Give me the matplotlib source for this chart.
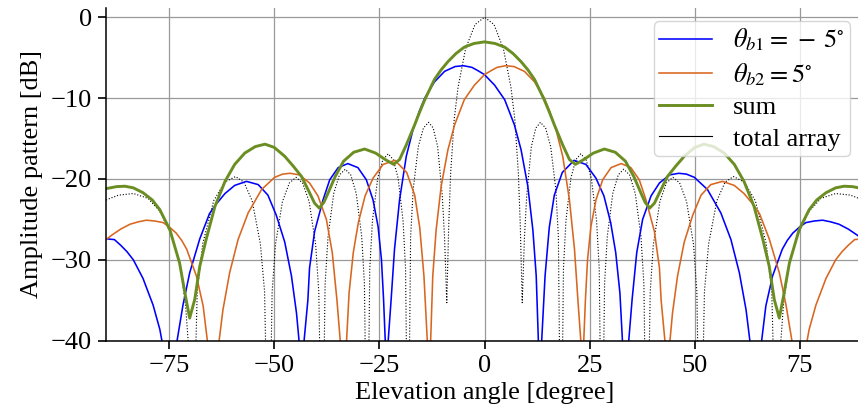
import matplotlib
matplotlib.use("Agg")
import matplotlib.pyplot as plt
from matplotlib.lines import Line2D

# values (angle in degree, level in dB)
# points at -60 dB are nulls that fall below the visible range
blue_deg = [-90, -88.0, -86.5, -85.0, -83.5, -81.2, -78.8, -77.2, -76.6, -74.8,
            -73.1, -71.7, -70.1, -67.7, -65.4, -64.1, -61.7, -59.4, -56.6, -53.8,
            -51.5, -49.5, -47.5, -45.9, -44.7, -44.1, -43.5, -42.9, -42.0, -41.6,
            -40.4, -38.4, -36.8, -34.8, -32.5, -30.1, -28.1, -26.5, -25.3, -24.5,
            -24.0, -23.6, -23.25, -22.9, -22.2, -21.4, -20.2, -18.6, -17.0, -15.4,
            -14.2, -11.9, -9.5, -7.0, -5.0, -3.0, -1.6, 0.0, 2.4, 4.8,
            7.1, 8.7, 10.3, 11.5, 12.3, 12.8, 13.2, 13.6, 14.4, 15.4,
            16.6, 18.5, 21.3, 24.1, 26.5, 28.4, 30.0, 31.2, 32.2, 32.8,
            33.5, 34.3, 35.1, 36.2, 37.6, 39.6, 41.6, 44.0, 46.2, 48.0,
            49.9, 53.0, 56.2, 58.6, 60.6, 62.2, 63.1, 64.5, 65.9, 66.9,
            68.5, 70.8, 72.0, 73.3, 74.8, 76.4, 78.4, 80.4, 82.3, 84.3,
            86.5, 88.5, 90]
blue_db = [-27.4, -27.5, -28.2, -29.0, -30.0, -32.3, -35.6, -38.6, -40.3, -60,
           -40.0, -35.6, -31.6, -27.4, -24.3, -23.3, -21.8, -20.8, -20.3, -20.7,
           -22.0, -24.5, -27.8, -32.0, -36.6, -40.0, -60, -40.0, -35.0, -31.0,
           -26.5, -22.6, -20.1, -18.6, -18.1, -18.6, -20.1, -22.6, -25.9, -30.0,
           -34.9, -40.0, -60, -40.0, -34.9, -28.7, -22.6, -17.2, -13.9, -11.5,
           -10.0, -8.0, -6.7, -6.1, -6.0, -6.2, -6.6, -7.1, -8.4, -10.2,
           -13.3, -16.4, -20.9, -26.3, -32.0, -39.9, -60, -40.0, -32.0, -26.0,
           -22.0, -19.2, -17.7, -18.2, -19.9, -22.1, -25.4, -29.1, -34.1, -40.0,
           -60, -40.0, -34.9, -29.1, -25.0, -22.1, -20.5, -19.5, -19.3, -19.4,
           -19.8, -21.3, -24.2, -27.5, -31.6, -36.2, -40.0, -60, -40.0, -35.7,
           -32.0, -28.7, -27.6, -26.7, -26.0, -25.4, -25.2, -25.1, -25.3, -25.6,
           -26.2, -26.9, -27.5]

orange_deg = [-90, -88.5, -86.5, -84.3, -82.3, -80.4, -78.4, -76.4, -74.8, -73.3,
              -72.0, -70.8, -68.5, -66.9, -65.9,
              -64.5, -63.1, -62.2, -60.6, -58.6, -56.2, -53.0, -49.9, -48.0, -46.2,
              -44.0, -41.6, -39.6, -37.6, -36.2, -35.1, -34.3, -33.5, -32.8, -32.2,
              -31.2, -30.0, -28.4, -26.5, -24.1, -21.3, -18.5, -16.6, -15.4, -14.4,
              -13.6, -13.2, -12.8, -12.3, -11.5, -10.3, -8.7, -7.1, -4.8, -2.4,
              0.0, 1.6, 3.0, 5.0, 7.0, 9.5, 11.9, 14.2, 15.4, 17.0,
              18.6, 20.2, 21.4, 22.2, 22.9, 23.25, 23.6, 24.0, 24.5, 25.3,
              26.5, 28.1, 30.1, 32.5, 34.8, 36.8, 38.4, 40.4, 41.6, 42.0,
              42.9, 43.5, 44.1, 44.7, 45.9, 47.5, 49.5, 51.5, 53.8, 56.6,
              59.4, 61.7, 64.1, 65.4, 67.7, 70.1, 71.7, 73.1, 74.8, 76.6,
              77.2, 78.8, 81.2, 83.5, 85.0, 86.5, 88.0, 90]
orange_db = [-27.5, -26.9, -26.2, -25.6, -25.3, -25.1, -25.2, -25.4, -26.0, -26.7,
             -27.6, -28.7, -32.0, -35.7, -40.0,
             -60, -40.0, -36.2, -31.6, -27.5, -24.2, -21.3, -19.8, -19.4, -19.3,
             -19.5, -20.5, -22.1, -25.0, -29.1, -34.9, -40.0, -60, -40.0, -34.1,
             -29.1, -25.4, -22.1, -19.9, -18.2, -17.7, -19.2, -22.0, -26.0, -32.0,
             -40.0, -60, -39.9, -32.0, -26.3, -20.9, -16.4, -13.3, -10.2, -8.4,
             -7.1, -6.6, -6.2, -6.0, -6.1, -6.7, -8.0, -10.0, -11.5, -13.9,
             -17.2, -22.6, -28.7, -34.9, -40.0, -60, -40.0, -34.9, -30.0, -25.9,
             -22.6, -20.1, -18.6, -18.1, -18.6, -20.1, -22.6, -26.5, -31.0, -35.0,
             -40.0, -60, -40.0, -36.6, -32.0, -27.8, -24.5, -22.0, -20.7, -20.3,
             -20.8, -21.8, -23.3, -24.3, -27.4, -31.6, -35.6, -40.0, -60, -40.3,
             -38.6, -35.6, -32.3, -30.0, -29.0, -28.2, -27.5, -27.4]

sum_deg = [-90, -87.5, -85.5, -83.5, -81.2, -79.0, -77.2, -74.8, -72.5, -71.1,
           -70.1, -68.9, -67.7, -66.2, -64.1, -61.7, -59.4, -57.0, -54.5, -52.2,
           -50.0, -47.5, -45.5, -43.5, -41.6, -40.4, -39.3, -38.2, -37.5, -35.5,
           -33.5, -31.1, -28.5, -25.9, -23.6, -21.6, -20.2, -18.6, -16.6, -15.4,
           -14.2, -13.0, -11.9, -10.3, -8.7, -6.8, -4.8, -2.5, 0.0,
           2.5, 4.8, 6.8, 8.7, 10.3, 11.9, 13.0, 14.2, 15.4, 16.6,
           18.6, 20.2, 21.6, 23.6, 25.9, 28.5, 31.1, 33.5, 35.5, 37.5,
           38.2, 39.3, 40.4, 41.6, 43.5, 45.5, 47.5, 50.0, 52.2, 54.5,
           57.0, 59.4, 61.7, 64.1, 66.2, 67.7, 68.9, 70.1, 71.1, 72.5,
           74.8, 77.2, 79.0, 81.2, 83.5, 85.5, 87.5, 90]
sum_db = [-21.2, -20.95, -20.9, -21.1, -21.7, -22.6, -23.8, -26.3, -30.4, -34.5,
          -37.2, -34.9, -30.8, -27.5, -23.4, -20.3, -18.2, -16.8, -16.0, -15.7,
          -16.1, -17.2, -18.4, -19.7, -21.7, -23.0, -23.6, -22.9, -22.1, -19.7,
          -17.8, -16.7, -16.3, -16.8, -17.6, -18.2, -17.6, -15.8, -13.3, -11.7,
          -10.2, -8.9, -7.7, -6.5, -5.5, -4.5, -3.7, -3.25, -3.05,
          -3.25, -3.7, -4.5, -5.5, -6.5, -7.7, -8.9, -10.2, -11.7, -13.3,
          -15.8, -17.6, -18.2, -17.6, -16.8, -16.3, -16.7, -17.8, -19.7, -22.1,
          -22.9, -23.6, -23.0, -21.7, -19.7, -18.4, -17.2, -16.1, -15.7, -16.0,
          -16.8, -18.2, -20.3, -23.4, -27.5, -30.8, -34.9, -37.2, -34.5, -30.4,
          -26.3, -23.8, -22.6, -21.7, -21.1, -20.9, -20.95, -21.2]

total_deg = [-90, -87.0, -83.5, -80.0, -77.2, -74.8, -72.5, -71.1, -70.4, -69.6,
             -68.3, -67.0, -64.4, -61.8, -59.2, -57.2, -55.25, -53.3, -52.3, -51.3,
             -50.5, -49.7, -48.05, -46.4, -44.8, -43.25, -41.7, -40.15, -39.4, -38.6,
             -37.9, -37.2, -35.85, -34.5, -33.1, -31.8, -30.5, -29.2, -28.55, -27.9,
             -27.28, -26.65, -25.4, -24.15, -22.9, -21.72, -20.54, -19.36, -18.77, -18.18,
             -17.57, -16.96, -15.74, -14.52, -13.3, -12.2, -11.14, -10.05, -9.5, -8.97,
             -8.5, -8.05, -7.2, -6.3, -4.5, -2.25, 0.0,
             2.25, 4.5, 6.3, 7.2, 8.05, 8.5, 8.97, 9.5, 10.05, 11.14,
             12.2, 13.3, 14.52, 15.74, 16.96, 17.57, 18.18, 18.77, 19.36, 20.54,
             21.72, 22.9, 24.15, 25.4, 26.65, 27.28, 27.9, 28.55, 29.2, 30.5,
             31.8, 33.1, 34.5, 35.85, 37.2, 37.9, 38.6, 39.4, 40.15, 41.7,
             43.25, 44.8, 46.4, 48.05, 49.7, 50.5, 51.3, 52.3, 53.3, 55.25,
             57.2, 59.2, 61.8, 64.4, 67.0, 68.3, 69.6, 70.4, 71.1, 72.5,
             74.8, 77.2, 80.0, 83.5, 87.0, 90]
total_db = [-22.6, -22.0, -21.8, -22.4, -24.0, -26.5, -30.2, -35.5, -40.5, -60,
            -33.9, -28.0, -22.7, -20.4, -19.7, -20.4, -22.7, -28.0, -33.9, -60,
            -34.0, -28.1, -22.8, -20.5, -19.8, -20.5, -22.8, -28.1, -34.0, -60,
            -33.0, -27.1, -21.8, -19.5, -18.8, -19.5, -21.8, -27.1, -33.0, -60,
            -31.1, -25.2, -19.9, -17.6, -16.9, -17.6, -19.9, -25.2, -31.1, -60,
            -27.2, -21.3, -16.0, -13.7, -13.0, -13.7, -16.0, -22.0, -27.2, -35.3,
            -25.6, -19.3, -12.6, -8.7, -3.9, -0.9, 0.0,
            -0.9, -3.9, -8.7, -12.6, -19.3, -25.6, -35.3, -27.2, -22.0, -16.0,
            -13.7, -13.0, -13.7, -16.0, -21.3, -27.2, -60, -31.1, -25.2, -19.9,
            -17.6, -16.9, -17.6, -19.9, -25.2, -31.1, -60, -33.0, -27.1, -21.8,
            -19.5, -18.8, -19.5, -21.8, -27.1, -33.0, -60, -34.0, -28.1, -22.8,
            -20.5, -19.8, -20.5, -22.8, -28.1, -34.0, -60, -33.9, -28.0, -22.7,
            -20.4, -19.7, -20.4, -22.7, -28.0, -33.9, -60, -40.5, -35.5, -30.2,
            -26.5, -24.0, -22.4, -21.8, -22.0, -22.6]

x_ticks = [-75, -50, -25, 0, 25, 50, 75]
y_ticks = [-40, -30, -20, -10, 0]
labels = [r'$\theta_{b1} =\,-\,5^{\circ}$', r'$\theta_{b2} = 5^{\circ}$', 'sum', 'total array']

plt.rcParams['font.family'] = 'serif'
plt.rcParams['font.serif'] = ['Liberation Serif', 'DejaVu Serif']
plt.rcParams['mathtext.fontset'] = 'stix'
plt.rcParams['font.size'] = 19

fig = plt.figure(figsize=(8.58, 4.19), dpi=100)
# right edge of the axes sits a little outside the picture, as in the reference
ax = fig.add_axes([106 / 858, 78.3 / 419, 757 / 858, 332.4 / 419])

ax.plot(total_deg, total_db, color='black', ls=':', lw=0.8)
ax.plot(blue_deg, blue_db, color='#0000ff', lw=1.15)
ax.plot(orange_deg, orange_db, color='#d9661f', lw=1.15)
ax.plot(sum_deg, sum_db, color='#6b8e23', lw=2.1)

ax.set_xlim(-90, 90)
ax.set_ylim(-40, 1.1)
ax.set_xticks(x_ticks)
ax.set_yticks(y_ticks)
ax.grid(True, color='0.6', lw=0.9)
ax.set_axisbelow(True)
for s in ['top', 'right']:
    ax.spines[s].set_visible(False)
for s in ['left', 'bottom']:
    ax.spines[s].set_linewidth(1.1)
ax.tick_params(direction='out', length=6, width=1.2, pad=4)

ax.set_xlabel('Elevation angle [degree]', labelpad=4)
ax.set_ylabel('Amplitude pattern [dB]', labelpad=6)

handles = [Line2D([], [], color='#0000ff', lw=1.15),
           Line2D([], [], color='#d9661f', lw=1.15),
           Line2D([], [], color='#6b8e23', lw=2.1),
           Line2D([], [], color='black', lw=0.8)]
ax.legend(handles, labels, loc='upper right', fontsize=19, labelspacing=0.3,
          borderpad=0.2, handlelength=2.0)

fig.savefig('out.png', dpi=100)
